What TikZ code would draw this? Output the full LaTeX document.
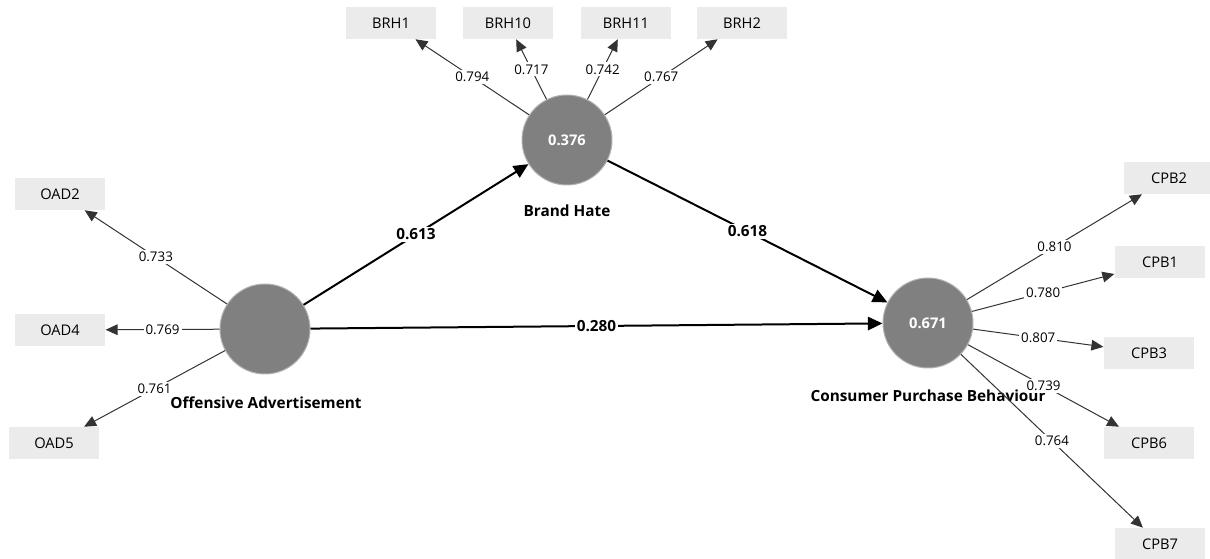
\documentclass[tikz,border=0pt]{standalone}
\usepackage{fontspec}
\setmainfont{Open Sans}
\usetikzlibrary{arrows.meta}
\begin{document}
\begin{tikzpicture}[
        x=0.75pt, y=-0.75pt,
        font=\fontsize{10}{12}\selectfont,
        construct/.style={circle, draw=black!30, line width=0.75pt, fill=black!50, minimum size=67.5pt, inner sep=0pt, text=white, font=\fontsize{11}{13}\selectfont\bfseries},
        indicator/.style={rectangle, fill=black!8, minimum width=68pt, minimum height=24pt, inner sep=0pt, font=\fontsize{11}{13}\selectfont},
        cname/.style={font=\fontsize{11.5}{14}\selectfont\bfseries},
        loading/.style={draw=black!80, line width=0.75pt, -{Triangle[length=9pt, width=8pt]}},
        structural/.style={draw=black, line width=1.5pt, -{Triangle[length=11pt, width=10pt]}},
        loadlabel/.style={fill=white, inner sep=1.5pt},
        coeflabel/.style={fill=white, inner sep=1.5pt, font=\fontsize{11.5}{14}\selectfont\bfseries}
    ]
    \useasboundingbox (0,0) rectangle (1210,559);

    \node[construct] (oa) at (265,329) {};
    \node[construct] (bh) at (567,140) {0.376};
    \node[construct] (cpb) at (928,323) {0.671};

    \node[cname] (oaname) at (266,403) {Offensive Advertisement};
    \node[cname] (bhname) at (567,211) {Brand Hate};
    \node[cname] (cpbname) at (928,396) {Consumer Purchase Behaviour};

    \node[indicator] (brh1) at (391,23) {BRH1};
    \node[indicator] (brh10) at (508,23) {BRH10};
    \node[indicator] (brh11) at (626,23) {BRH11};
    \node[indicator] (brh2) at (742,23) {BRH2};
    \node[indicator] (oad2) at (60,194) {OAD2};
    \node[indicator] (oad4) at (60,330) {OAD4};
    \node[indicator] (oad5) at (54,443) {OAD5};
    \node[indicator] (cpb2) at (1169,178) {CPB2};
    \node[indicator] (cpb1) at (1160,262) {CPB1};
    \node[indicator] (cpb3) at (1149,353) {CPB3};
    \node[indicator] (cpb6) at (1149,443) {CPB6};
    \node[indicator] (cpb7) at (1160,544) {CPB7};

    \draw[loading] (bh) -- node[loadlabel] {0.794} (brh1);
    \draw[loading] (bh) -- node[loadlabel] {0.717} (brh10);
    \draw[loading] (bh) -- node[loadlabel] {0.742} (brh11);
    \draw[loading] (bh) -- node[loadlabel] {0.767} (brh2);
    \draw[loading] (oa) -- node[loadlabel] {0.733} (oad2);
    \draw[loading] (oa) -- node[loadlabel] {0.769} (oad4);
    \draw[loading] (oa) -- node[loadlabel] {0.761} (oad5);
    \draw[loading] (cpb) -- node[loadlabel] {0.810} (cpb2);
    \draw[loading] (cpb) -- node[loadlabel] {0.780} (cpb1);
    \draw[loading] (cpb) -- node[loadlabel] {0.807} (cpb3);
    \draw[loading] (cpb) -- node[loadlabel] {0.739} (cpb6);
    \draw[loading] (cpb) -- node[loadlabel] {0.764} (cpb7);

    \draw[structural] (oa) -- node[coeflabel] {0.613} (bh);
    \draw[structural] (bh) -- node[coeflabel] {0.618} (cpb);
    \draw[structural] (oa) -- node[coeflabel] {0.280} (cpb);
\end{tikzpicture}
\end{document}
